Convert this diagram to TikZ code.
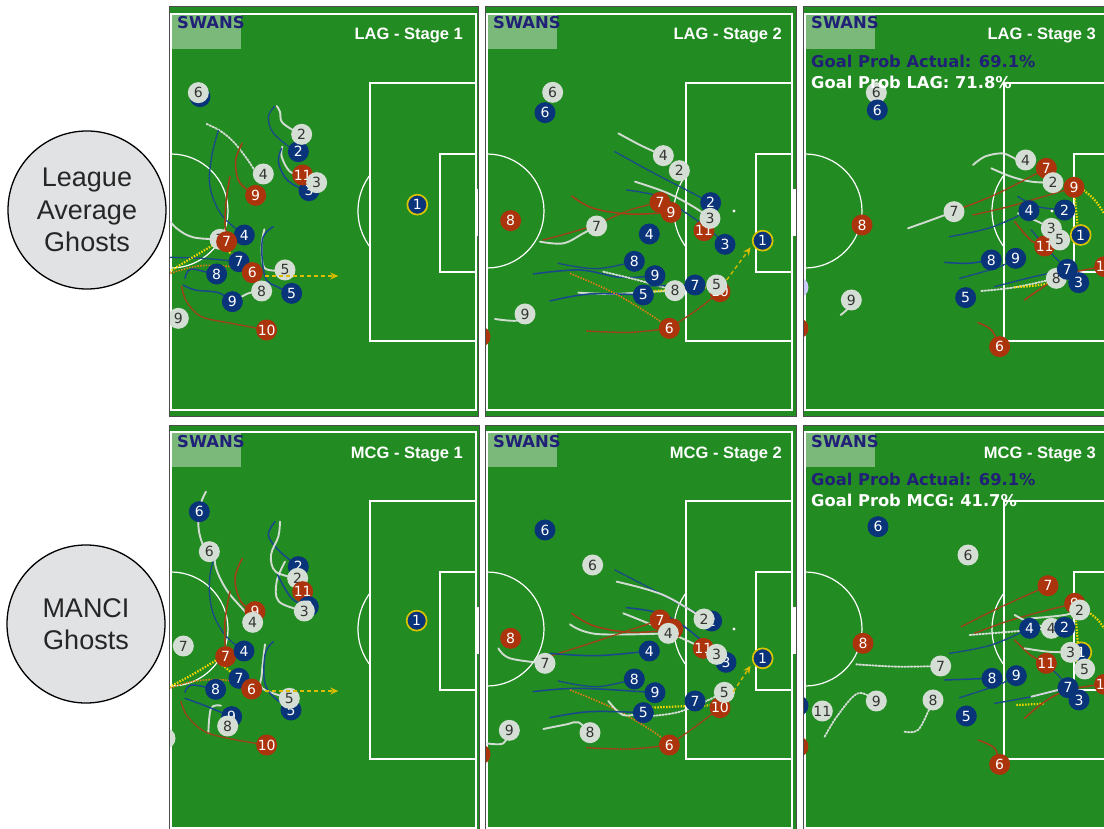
\documentclass[tikz,border=0pt]{standalone}
\usepackage{fontspec}
\usetikzlibrary{arrows.meta}
\newfontfamily\dvs{DejaVu Sans}
\newfontfamily\lib{Liberation Sans}
\definecolor{pgreen}{RGB}{34,139,34}
\definecolor{pblue}{RGB}{10,52,122}
\definecolor{pred}{RGB}{172,52,12}
\definecolor{pgray}{RGB}{212,222,212}
\definecolor{lblue}{RGB}{25,70,140}
\definecolor{lred}{RGB}{165,62,22}
\definecolor{lorange}{RGB}{225,125,20}
\definecolor{yel}{RGB}{245,215,0}
\definecolor{gkyel}{RGB}{215,195,0}
\definecolor{navy}{RGB}{32,32,118}
\definecolor{ghostfill}{RGB}{225,226,228}
\newcounter{pk}
\tikzset{
  pbase/.style={circle,minimum size=21pt,inner sep=0pt,font=\dvs\fontsize{14}{14}\selectfont},
  pb/.style={pbase,fill=pblue,text=white},
  pr/.style={pbase,fill=pred,text=white},
  pg/.style={pbase,fill=pgray,text=black!80},
  plav/.style={pbase,fill=blue!20!white},
  gk/.style={pbase,fill=pblue,text=white,draw=gkyel,line width=1.7pt,minimum size=20pt},
  pline/.style={draw=white,line width=1.2pt},
  frame/.style={draw=black!70,line width=1pt},
  tw/.style={draw=white!90!black,line width=1.9pt,line cap=round,opacity=.9},
  twd/.style={tw,dash pattern=on 1.6pt off 1.6pt},
  tb/.style={draw=lblue,line width=1.5pt,line cap=round},
  tbd/.style={tb,dash pattern=on 1.5pt off 1.3pt},
  trr/.style={draw=lred,line width=1.5pt,line cap=round},
  trd/.style={trr,dash pattern=on 1.5pt off 1.3pt},
  tod/.style={draw=lorange,line width=1.6pt,dash pattern=on 1.5pt off 1.3pt},
  ty/.style={draw=yel,line width=2.2pt,dash pattern=on 1.5pt off 1.4pt},
  tya/.style={draw=gkyel!90!orange,line width=1.3pt,dash pattern=on 4pt off 3pt,-{Stealth[length=8pt,width=7pt]}},
  swans/.style={font=\dvs\bfseries\fontsize{16.4}{16}\selectfont,text=navy,inner sep=0pt},
  ttl/.style={font=\lib\bfseries\fontsize{16.5}{16}\selectfont,text=white,inner sep=0pt},
  prob/.style={font=\dvs\bfseries\fontsize{16.3}{16}\selectfont,inner sep=0pt},
  ghost/.style={circle,draw=black,line width=1.3pt,fill=ghostfill,minimum size=158pt,inner sep=0pt,align=center,
     font=\lib\fontsize{27}{32.5}\selectfont,text=black!85}
}
\newcommand\Plyr[4]{\stepcounter{pk}\node[#1] (pl\arabic{pk}) at (#2,#3) {#4};}
\newcommand\Trail[2]{\draw[#1] plot[smooth,tension=.6] coordinates {#2};}
\newcommand\Pitch[2]{%
  \begin{scope}[shift={(#1pt,-#2pt)}]
    \draw[pline] (2,7) rectangle (307,403);
    \draw[pline] (307,76) -- (201,76) -- (201,334) -- (307,334);
    \draw[pline] (307,147) -- (271,147) -- (271,265) -- (307,265);
    \fill[white] (307,182) rectangle (311,229);
    \draw[pline] (2,204) circle[radius=57pt];
    \begin{scope}\clip (150,100) rectangle (201,300);
      \draw[pline] (249,204) circle[radius=60pt];
    \end{scope}
    \fill[white] (249,204) circle[radius=1.6pt];
  \end{scope}}
\newcommand\Panel[4]{%
  \fill[pgreen] (#1,#2) rectangle (#3,#4);
  \begin{scope}\clip (#1,#2) rectangle (#3,#4); \Pitch{#1}{#2}\end{scope}}
\newcommand\Over[4]{% X0 Y0 title
  \fill[white,fill opacity=0.4] (#1,#2+7) rectangle (#1+72,#2+42);
  \node[swans,anchor=base west] at (#1+8,#2+22) {SWANS};
  \node[ttl,anchor=base east] at (#1+#4,#2+33) {#3};}
\begin{document}
\begin{tikzpicture}[x=1pt,y=-1pt]
\useasboundingbox (0,0) rectangle (1104,829);
\fill[white] (0,0) rectangle (1104,829);

\node[ghost] (lag) at (87,210) {League\\Average\\Ghosts};
\node[ghost] (mcg) at (86,624) {MANCI\\Ghosts};

% ---------------- Panel 1
\Panel{169}{7}{478}{416}
\begin{scope}\clip (169,7) rectangle (478,416);
\begin{scope}[shift={(165pt,0pt)},x=0.33333pt,y=-0.33333pt]
\Trail{tw}{(335,318) (345,335) (350,365) (380,388) (410,403)}
\Trail{tbd}{(328,320) (310,350) (322,395) (365,435) (400,455)}
\Trail{tw}{(352,440) (350,470) (375,515) (420,532) (455,548)}
\Trail{tb}{(350,445) (340,485) (362,535) (400,562) (432,572)}
\Trail{twd}{(125,372) (165,392) (205,425) (245,475) (275,518) (295,522)}
\Trail{trr}{(232,430) (212,480) (220,540) (250,572) (272,586)}
\Trail{tbd}{(160,392) (140,470) (135,560) (170,645) (238,705)}
\Trail{trr}{(195,530) (185,590) (180,660) (185,725)}
\Trail{tw}{(0,645) (35,685) (85,712) (165,718)}
\Trail{tbd}{(0,772) (110,775) (222,785)}
\Trail{tod}{(0,825) (100,798) (200,800) (262,818)}
\Trail{ty}{(5,820) (70,780) (150,732)}
\Trail{ty}{(165,735) (215,775) (262,818)}
\Trail{tb}{(60,835) (75,808) (120,815) (155,822)}
\Trail{tb}{(55,855) (90,870) (160,878) (202,905)}
\Trail{tw}{(205,905) (250,880) (290,873)}
\Trail{trd}{(50,860) (65,905) (110,950) (200,970) (305,990)}
\Trail{tw}{(298,688) (290,740) (300,805) (360,810)}
\Trail{tb}{(325,680) (292,720) (300,830) (340,862) (380,880)}
\Plyr{pb}{105}{290}{6}\Plyr{pg}{100}{278}{6}
\Plyr{pb}{400}{455}{2}\Plyr{pg}{410}{403}{2}
\Plyr{pb}{432}{572}{3}\Plyr{pr}{413}{525}{11}\Plyr{pg}{455}{548}{3}
\Plyr{pg}{295}{522}{4}\Plyr{pr}{272}{586}{9}
\Plyr{pb}{238}{705}{4}
\Plyr{pg}{165}{718}{7}\Plyr{pr}{185}{725}{7}
\Plyr{pb}{222}{785}{7}
\Plyr{pb}{155}{822}{8}
\Plyr{pr}{262}{818}{6}
\Plyr{pg}{360}{810}{5}\Plyr{pb}{380}{880}{5}
\Plyr{pb}{202}{905}{9}\Plyr{pg}{290}{873}{8}
\Plyr{pg}{40}{955}{9}
\Plyr{pr}{305}{990}{10}
\Plyr{gk}{757}{614}{1}
\coordinate (a1s) at (300,828); \coordinate (a1e) at (520,828);
\draw[tya] (a1s) -- (a1e);
\end{scope}\end{scope}
\Over{169}{7}{LAG - Stage 1}{294}
\draw[frame] (169,7) rectangle (478,416);

% ---------------- Panel 2
\Panel{485}{7}{796}{416}
\begin{scope}\clip (485,7) rectangle (796,416);
\begin{scope}[shift={(480pt,0pt)},x=0.33333pt,y=-0.33333pt]
\Trail{tw}{(415,400) (480,435) (550,467)}
\Trail{tbd}{(405,455) (500,508) (600,560) (692,608)}
\Trail{tw}{(465,545) (560,578) (640,620) (690,655)}
\Trail{tbd}{(440,570) (540,590) (620,640) (690,690) (735,733)}
\Trail{trr}{(275,588) (340,625) (450,642) (573,637)}
\Trail{trd}{(190,720) (330,680) (450,630) (540,607)}
\Trail{tw}{(180,725) (250,730) (310,700) (350,678)}
\Trail{tbd}{(235,790) (350,806) (463,784)}
\Trail{tb}{(160,822) (300,810) (420,832) (525,827)}
\Trail{twd}{(370,815) (480,842) (585,872)}
\Trail{tw}{(295,878) (400,882) (500,876) (585,872)}
\Trail{tb}{(210,903) (330,882) (490,885)}
\Trail{tbd}{(500,858) (645,855)}
\Trail{ty}{(490,875) (600,868) (705,860)}
\Trail{tod}{(270,820) (400,878) (520,950) (568,985)}
\Trail{trd}{(320,993) (450,997) (568,985)}
\Trail{trd}{(568,985) (650,930) (720,875)}
\Trail{tw}{(45,957) (110,962) (135,942)}
\Plyr{pg}{218}{277}{6}\Plyr{pb}{195}{338}{6}
\Plyr{pg}{550}{467}{4}\Plyr{pg}{598}{512}{2}
\Plyr{pb}{692}{608}{2}
\Plyr{pr}{672}{692}{11}\Plyr{pg}{690}{655}{3}
\Plyr{pb}{735}{733}{3}
\Plyr{pr}{540}{607}{7}\Plyr{pr}{573}{637}{9}
\Plyr{pg}{350}{678}{7}
\Plyr{pr}{92}{662}{8}
\Plyr{pb}{508}{702}{4}
\Plyr{pb}{463}{784}{8}\Plyr{pb}{525}{827}{9}\Plyr{pb}{490}{885}{5}
\Plyr{pg}{585}{872}{8}\Plyr{pb}{645}{855}{7}
\Plyr{pr}{720}{875}{10}\Plyr{pg}{710}{855}{5}
\Plyr{pr}{568}{985}{6}
\Plyr{pg}{135}{942}{9}
\Plyr{pr}{0}{1010}{2}
\Plyr{gk}{848}{722}{1}
\coordinate (a2s) at (740,840); \coordinate (a2e) at (812,742);
\draw[tya] (a2s) -- (a2e);
\end{scope}\end{scope}
\Over{485}{7}{LAG - Stage 2}{297}
\draw[frame] (485,7) rectangle (796,416);

% ---------------- Panel 3
\Panel{803}{7}{1104}{416}
\begin{scope}\clip (803,7) rectangle (1104,416);
\begin{scope}[shift={(798pt,0pt)},x=0.33333pt,y=-0.33333pt]
\Trail{tw}{(525,495) (560,470) (610,460) (640,470) (665,485)}
\Trail{tw}{(580,505) (640,530) (700,545) (765,548)}
\Trail{trd}{(490,625) (600,580) (745,505)}
\Trail{trd}{(525,645) (650,615) (828,562)}
\Trail{tw}{(330,685) (400,660) (468,635)}
\Trail{tbd}{(455,710) (580,682) (693,632)}
\Trail{tbd}{(660,590) (720,620) (800,630)}
\Trail{trr}{(650,665) (700,722) (740,738)}
\Trail{tw}{(660,640) (720,665) (760,685)}
\Trail{tbd}{(700,690) (760,760) (808,808)}
\Trail{tb}{(440,787) (510,790) (580,780)}
\Trail{tbd}{(485,835) (600,802) (653,775)}
\Trail{twd}{(550,873) (650,862) (775,835)}
\Trail{ty}{(650,862) (700,858) (760,850)}
\Trail{tbd}{(590,860) (700,832) (808,808)}
\Trail{trr}{(680,900) (740,858) (808,822) (915,800)}
\Trail{ty}{(828,562) (835,640) (842,705)}
\Trail{ty}{(850,565) (890,600) (918,640)}
\Trail{trr}{(540,968) (580,990) (605,1040)}
\Trail{tw}{(128,945) (150,925) (160,900)}
\Plyr{pg}{235}{278}{6}\Plyr{pb}{238}{330}{6}
\Plyr{pg}{683}{480}{4}\Plyr{pr}{745}{505}{7}\Plyr{pg}{765}{548}{2}\Plyr{pr}{828}{562}{9}
\Plyr{pg}{468}{635}{7}\Plyr{pr}{192}{675}{8}
\Plyr{pb}{693}{632}{4}\Plyr{pb}{800}{630}{2}
\Plyr{pr}{740}{738}{11}\Plyr{pg}{760}{685}{3}\Plyr{pg}{785}{720}{5}
\Plyr{gk}{848}{705}{1}
\Plyr{pb}{580}{780}{8}\Plyr{pb}{653}{775}{9}
\Plyr{pb}{503}{893}{5}
\Plyr{pg}{775}{835}{8}\Plyr{pb}{808}{808}{7}\Plyr{pb}{842}{848}{3}\Plyr{pr}{920}{800}{10}
\Plyr{pg}{160}{900}{9}
\Plyr{pr}{605}{1040}{6}
\Plyr{pr}{0}{985}{2}
\Plyr{plav}{0}{862}{}
\end{scope}\end{scope}
\Over{803}{7}{LAG - Stage 3}{293}
\node[prob,text=navy,anchor=base west] (p3a) at (811,68) {Goal Prob Actual: 69.1\%};
\node[prob,text=white,anchor=base west] (p3b) at (811,89) {Goal Prob LAG: 71.8\%};
\draw[frame] (803,7) rectangle (1106,416);

% ---------------- Panel 4
\Panel{169}{425}{479}{829}
\begin{scope}\clip (169,425) rectangle (479,829);
\begin{scope}[shift={(165pt,-415pt)},x=0.33333pt,y=-0.33333pt]
\Trail{tw}{(123,230) (108,265) (100,330) (112,385) (133,410)}
\Trail{tw}{(150,395) (152,455) (185,525) (240,590) (263,622)}
\Trail{tbd}{(160,395) (135,480) (140,580) (180,660) (237,708)}
\Trail{trr}{(232,430) (210,490) (228,560) (270,590)}
\Trail{trr}{(195,530) (180,620) (182,725)}
\Trail{tb}{(330,320) (310,360) (340,405) (400,455)}
\Trail{tw}{(345,320) (340,365) (318,420) (332,470) (398,490)}
\Trail{tw}{(360,440) (335,500) (342,560) (418,588)}
\Trail{tb}{(338,480) (380,550) (430,575)}
\Trail{tod}{(0,825) (80,800) (180,795) (260,822)}
\Trail{ty}{(5,820) (80,780) (155,735)}
\Trail{ty}{(165,745) (215,785) (260,822)}
\Trail{tw}{(300,688) (290,780) (292,820) (373,850)}
\Trail{tb}{(325,680) (300,720) (305,820) (378,885)}
\Trail{tb}{(60,832) (80,810) (152,823)}
\Trail{tw}{(130,955) (138,880) (168,872)}
\Trail{tb}{(60,850) (120,872) (200,905)}
\Trail{trd}{(48,860) (68,905) (120,950) (200,972) (305,990)}
\Plyr{pb}{103}{290}{6}\Plyr{pg}{133}{410}{6}
\Plyr{pb}{400}{455}{2}\Plyr{pg}{398}{490}{2}\Plyr{pr}{413}{530}{11}\Plyr{pb}{430}{575}{3}\Plyr{pg}{418}{588}{3}
\Plyr{pr}{270}{590}{9}\Plyr{pg}{263}{622}{4}
\Plyr{pg}{55}{693}{7}
\Plyr{pr}{182}{725}{7}\Plyr{pb}{237}{708}{4}
\Plyr{pb}{222}{790}{7}\Plyr{pr}{260}{822}{6}
\Plyr{pb}{152}{823}{8}
\Plyr{pb}{378}{885}{5}\Plyr{pg}{373}{850}{5}
\Plyr{pb}{200}{905}{9}\Plyr{pg}{188}{933}{8}
\Plyr{pr}{305}{990}{10}
\Plyr{pg}{0}{970}{9}
\Plyr{gk}{755}{617}{1}
\coordinate (a4s) at (300,828); \coordinate (a4e) at (520,828);
\draw[tya] (a4s) -- (a4e);
\end{scope}\end{scope}
\Over{169}{425}{MCG - Stage 1}{294}
\draw[frame] (169,425) rectangle (479,831);

% ---------------- Panel 5
\Panel{485}{425}{796}{829}
\begin{scope}\clip (485,425) rectangle (796,829);
\begin{scope}[shift={(480pt,-415pt)},x=0.33333pt,y=-0.33333pt]
\Trail{tbd}{(405,465) (530,530) (695,618)}
\Trail{tw}{(410,500) (550,540) (672,612)}
\Trail{tb}{(440,578) (540,595) (620,640) (738,742)}
\Trail{tw}{(430,595) (540,640) (710,718)}
\Trail{trr}{(275,595) (340,632) (450,652) (575,645)}
\Trail{tw}{(270,628) (350,657) (565,655)}
\Trail{trd}{(190,730) (330,685) (540,615)}
\Trail{tw}{(55,700) (90,730) (195,745)}
\Trail{tb}{(210,715) (350,722) (508,708)}
\Trail{tbd}{(235,798) (350,815) (463,792)}
\Trail{tb}{(160,830) (300,820) (525,833)}
\Trail{tod}{(270,825) (400,880) (520,950) (568,990)}
\Trail{tw}{(385,858) (430,900) (490,893)}
\Trail{tb}{(210,908) (330,890) (490,893)}
\Trail{ty}{(480,880) (600,874) (720,870)}
\Trail{twd}{(480,905) (600,890) (733,832)}
\Trail{trd}{(320,998) (450,1002) (568,990)}
\Trail{trd}{(568,990) (650,932) (720,878)}
\Trail{tw}{(190,942) (260,928) (295,922) (330,953)}
\Trail{tw}{(20,985) (70,985) (88,946)}
\Plyr{pb}{195}{345}{6}\Plyr{pg}{338}{450}{6}
\Plyr{pb}{695}{618}{2}\Plyr{pg}{672}{612}{2}
\Plyr{pr}{540}{615}{7}\Plyr{pr}{578}{642}{}\Plyr{pg}{565}{655}{4}
\Plyr{pr}{670}{700}{11}\Plyr{pb}{738}{742}{3}\Plyr{pg}{710}{718}{3}
\Plyr{gk}{848}{730}{1}
\Plyr{pr}{92}{670}{8}
\Plyr{pg}{195}{745}{7}
\Plyr{pb}{508}{708}{4}
\Plyr{pb}{463}{792}{8}\Plyr{pb}{525}{833}{9}\Plyr{pb}{490}{893}{5}\Plyr{pb}{645}{858}{7}
\Plyr{pr}{720}{878}{10}\Plyr{pg}{733}{832}{5}
\Plyr{pg}{88}{946}{9}\Plyr{pg}{330}{953}{8}
\Plyr{pr}{568}{990}{6}
\Plyr{pr}{0}{1018}{2}
\coordinate (a5s) at (760,830); \coordinate (a5e) at (812,752);
\draw[tya] (a5s) -- (a5e);
\end{scope}\end{scope}
\Over{485}{425}{MCG - Stage 2}{297}
\draw[frame] (485,425) rectangle (796,831);

% ---------------- Panel 6
\Panel{803}{425}{1104}{829}
\begin{scope}\clip (803,425) rectangle (1104,829);
\begin{scope}[shift={(798pt,-415pt)},x=0.33333pt,y=-0.33333pt]
\Trail{trd}{(490,635) (600,580) (750,512)}
\Trail{trd}{(530,655) (650,612) (830,565)}
\Trail{tw}{(650,600) (700,625) (760,640)}
\Trail{twd}{(515,660) (640,650) (760,640)}
\Trail{tw}{(700,610) (800,600) (845,585)}
\Trail{tbd}{(455,715) (580,690) (695,640)}
\Trail{trr}{(650,675) (700,722) (745,745)}
\Trail{tw}{(680,700) (750,710) (818,712)}
\Trail{tbd}{(740,745) (780,780) (810,818)}
\Trail{twd}{(175,748) (300,755) (428,753)}
\Trail{tb}{(440,795) (582,790)}
\Trail{tbd}{(485,848) (600,810) (655,782)}
\Trail{twd}{(80,965) (120,900) (180,835) (235,858)}
\Trail{twd}{(320,950) (360,945) (395,880) (405,855)}
\Trail{tbd}{(590,865) (700,845) (810,818)}
\Trail{ty}{(655,870) (700,868) (740,865)}
\Trail{tw}{(700,845) (780,825)}
\Trail{trr}{(680,910) (740,860) (810,825) (915,808)}
\Trail{ty}{(830,565) (836,640) (842,712)}
\Trail{ty}{(870,590) (900,615) (918,640)}
\Trail{trr}{(540,975) (590,1000) (605,1048)}
\Plyr{pb}{240}{335}{6}\Plyr{pg}{510}{420}{6}
\Plyr{pr}{750}{512}{7}\Plyr{pr}{830}{565}{9}\Plyr{pg}{845}{585}{2}
\Plyr{pb}{695}{640}{4}\Plyr{pg}{760}{640}{4}\Plyr{pb}{800}{637}{2}
\Plyr{gk}{850}{712}{1}\Plyr{pg}{818}{712}{3}
\Plyr{pr}{745}{745}{11}\Plyr{pg}{860}{762}{5}
\Plyr{pr}{195}{685}{8}
\Plyr{pg}{428}{753}{7}
\Plyr{pb}{582}{790}{8}\Plyr{pb}{655}{782}{9}
\Plyr{pb}{843}{855}{3}\Plyr{pb}{810}{818}{7}\Plyr{pr}{920}{808}{10}
\Plyr{pg}{235}{858}{9}\Plyr{pg}{405}{855}{8}\Plyr{pb}{0}{872}{}\Plyr{pg}{73}{888}{11}
\Plyr{pb}{505}{903}{5}
\Plyr{pr}{605}{1048}{6}
\Plyr{pr}{0}{995}{2}
\end{scope}\end{scope}
\Over{803}{425}{MCG - Stage 3}{293}
\node[prob,text=navy,anchor=base west] (p6a) at (811,485) {Goal Prob Actual: 69.1\%};
\node[prob,text=white,anchor=base west] (p6b) at (811,506) {Goal Prob MCG: 41.7\%};
\draw[frame] (803,425) rectangle (1106,831);
\end{tikzpicture}
\end{document}
